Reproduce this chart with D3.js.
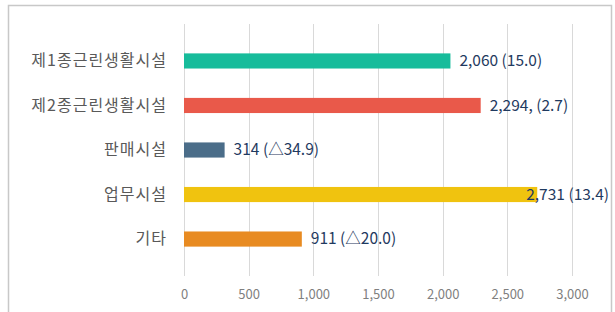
<!DOCTYPE html>
<html>
<head>
<meta charset="utf-8">
<script src="https://cdn.jsdelivr.net/npm/d3@7"></script>
<style>
  html, body { margin: 0; padding: 0; background: #fff; }
  svg { display: block; }
</style>
</head>
<body>
<div id="chart"></div>
<script>
const categories = ['제1종근린생활시설', '제2종근린생활시설', '판매시설', '업무시설', '기타'];
const values = [2060, 2294, 314, 2731, 911];
const valueLabels = ['2,060 (15.0)', '2,294, (2.7)', '314 (△34.9)', '2,731 (13.4)', '911 (△20.0)'];
const colors = ['#17bc9b', '#e9594a', '#4b6d89', '#f0c30f', '#e88b22'];
const xTicks = [0, 500, 1000, 1500, 2000, 2500, 3000];

const width = 615, height = 312;
const margin = { top: 24, right: 43, bottom: 36, left: 184 };
const innerWidth = width - margin.left - margin.right;
const innerHeight = height - margin.top - margin.bottom;
const font = '"Noto Sans CJK KR", "Noto Sans", sans-serif';

const svg = d3.select('#chart').append('svg')
  .attr('width', width)
  .attr('height', height);

// outer frame
svg.append('path')
  .attr('d', `M8.5,${height} V5.5 H611.5 V${height}`)
  .attr('fill', 'none')
  .attr('stroke', '#c8c8c8')
  .attr('stroke-width', 1.5);

const g = svg.append('g')
  .attr('transform', `translate(${margin.left},${margin.top})`);

const x = d3.scaleLinear().domain([0, 3000]).range([0, innerWidth]);
const y = d3.scaleBand().domain(categories).range([0, innerHeight]).padding(0.66);

// grid lines
g.selectAll('.grid')
  .data(xTicks)
  .enter().append('line')
  .attr('x1', d => Math.round(x(d)) + 0.5)
  .attr('x2', d => Math.round(x(d)) + 0.5)
  .attr('y1', 0)
  .attr('y2', innerHeight)
  .attr('stroke', '#d9d9d9');

// x axis labels
const xAxis = g.append('g')
  .attr('transform', `translate(0,${innerHeight})`)
  .call(d3.axisBottom(x).tickValues(xTicks).tickSize(0).tickPadding(14).tickFormat(d3.format(',')));
xAxis.select('.domain').remove();
xAxis.selectAll('text')
  .style('font-family', font)
  .style('font-size', '13px')
  .attr('fill', '#7f7f7f');

// y axis labels
const yAxis = g.append('g')
  .call(d3.axisLeft(y).tickSize(0).tickPadding(17));
yAxis.select('.domain').remove();
yAxis.selectAll('text')
  .style('font-family', font)
  .style('font-size', '16px')
  .style('letter-spacing', '1px')
  .attr('fill', '#595959');

// bars
g.selectAll('.bar')
  .data(values)
  .enter().append('rect')
  .attr('x', 0)
  .attr('y', (d, i) => y(categories[i]))
  .attr('width', d => x(d))
  .attr('height', y.bandwidth())
  .attr('fill', (d, i) => colors[i]);

// value labels
const labelMax = width - margin.left - 6;
g.selectAll('.val')
  .data(values)
  .enter().append('text')
  .attr('x', d => x(d) + 9)
  .attr('y', (d, i) => y(categories[i]) + y.bandwidth() / 2)
  .attr('dy', '0.35em')
  .style('font-family', font)
  .style('font-size', '15.5px')
  .attr('fill', '#1f3a60')
  .text((d, i) => valueLabels[i])
  .each(function (d) {
    const w = this.getComputedTextLength();
    if (x(d) + 9 + w > labelMax) {
      d3.select(this).attr('x', labelMax - w);
    }
  });
</script>
</body>
</html>
